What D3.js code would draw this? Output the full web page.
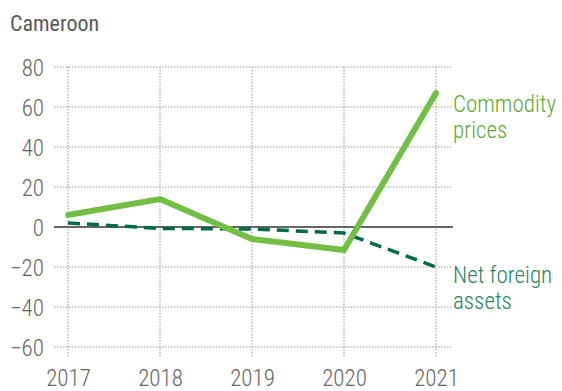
<!DOCTYPE html>
<html>
<head>
<meta charset="utf-8">
<script src="https://cdn.jsdelivr.net/npm/d3@7"></script>
<style>
  html, body { margin: 0; padding: 0; background: #fff; }
  svg text { font-family: Roboto, "Noto Sans", sans-serif; font-stretch: condensed; }
</style>
</head>
<body>
<svg id="chart" width="562" height="391"></svg>
<script>
// Cameroon: contributions (percent)
const years = [2017, 2018, 2019, 2020, 2021];
const commodityPrices = [6, 14, -6, -11.5, 67];
const netForeignAssets = [2, -0.7, -1, -3, -20];
const yTicks = [80, 60, 40, 20, 0, -20, -40, -60];
const title = "Cameroon";
const seriesLabels = {
  commodity: ["Commodity", "prices"],
  nfa: ["Net foreign", "assets"]
};

const svg = d3.select("#chart");
const margin = { left: 54, right: 453, top: 67, bottom: 347 };

const x = d3.scaleLinear().domain([2017, 2021]).range([68, 436]);
const y = d3.scaleLinear().domain([-60, 80]).range([347, 67]);

// title
svg.append("text")
  .attr("x", 10).attr("y", 31)
  .attr("font-size", 22)
  .attr("font-weight", 400)
  .attr("fill", "#5a5a5a")
  .text(title);

// horizontal dotted grid + y tick labels
const yAxis = svg.append("g")
  .attr("transform", `translate(${margin.left},0)`)
  .call(d3.axisLeft(y).tickValues(yTicks).tickSize(0).tickPadding(10)
    .tickFormat(d => d < 0 ? "\u2212" + Math.abs(d) : d));
yAxis.select(".domain").remove();
yAxis.selectAll("text")
  .attr("font-size", 23).attr("font-weight", 300).attr("fill", "#666")
  .attr("font-family", "Roboto, sans-serif").attr("dy", "0.36em");

svg.append("g").selectAll("line").data(yTicks.filter(d => d !== 0)).join("line")
  .attr("x1", margin.left).attr("x2", margin.right)
  .attr("y1", d => y(d)).attr("y2", d => y(d))
  .attr("stroke", "#999").attr("stroke-width", 1).attr("stroke-dasharray", "1.5,1.5");

// vertical dotted grid + x tick labels
svg.append("g").selectAll("line").data(years).join("line")
  .attr("x1", d => x(d)).attr("x2", d => x(d))
  .attr("y1", y(80)).attr("y2", 357)
  .attr("stroke", "#999").attr("stroke-width", 1).attr("stroke-dasharray", "1.5,1.5");

const xAxis = svg.append("g")
  .attr("transform", "translate(0,357)")
  .call(d3.axisBottom(x).tickValues(years).tickSize(0).tickPadding(13).tickFormat(d3.format("d")));
xAxis.select(".domain").remove();
xAxis.selectAll("text")
  .attr("font-size", 23).attr("font-weight", 300).attr("fill", "#666")
  .attr("font-family", "Roboto, sans-serif");

// zero line
svg.append("line")
  .attr("x1", margin.left).attr("x2", margin.right)
  .attr("y1", y(0)).attr("y2", y(0))
  .attr("stroke", "#333").attr("stroke-width", 1.3);

const line = d3.line().x((d, i) => x(years[i])).y(d => y(d));

// net foreign assets (dashed)
svg.append("path")
  .datum(netForeignAssets)
  .attr("d", line)
  .attr("fill", "none")
  .attr("stroke", "#00694a")
  .attr("stroke-width", 3.5)
  .attr("stroke-dasharray", "12,7");

// commodity prices (solid)
svg.append("path")
  .datum(commodityPrices)
  .attr("d", line)
  .attr("fill", "none")
  .attr("stroke", "#73bf45")
  .attr("stroke-width", 6)
  .attr("stroke-linejoin", "miter")
  .attr("stroke-linecap", "round");

// series labels
function seriesLabel(lines, yBase, color) {
  const t = svg.append("text")
    .attr("x", 453).attr("y", yBase)
    .attr("font-size", 23).attr("font-weight", 300).attr("fill", color);
  t.selectAll("tspan").data(lines).join("tspan")
    .attr("x", 453).attr("dy", (d, i) => i === 0 ? 0 : 26)
    .text(d => d);
}
seriesLabel(seriesLabels.commodity, 112, "#5faa32");
seriesLabel(seriesLabels.nfa, 283, "#2b8464");
</script>
</body>
</html>
